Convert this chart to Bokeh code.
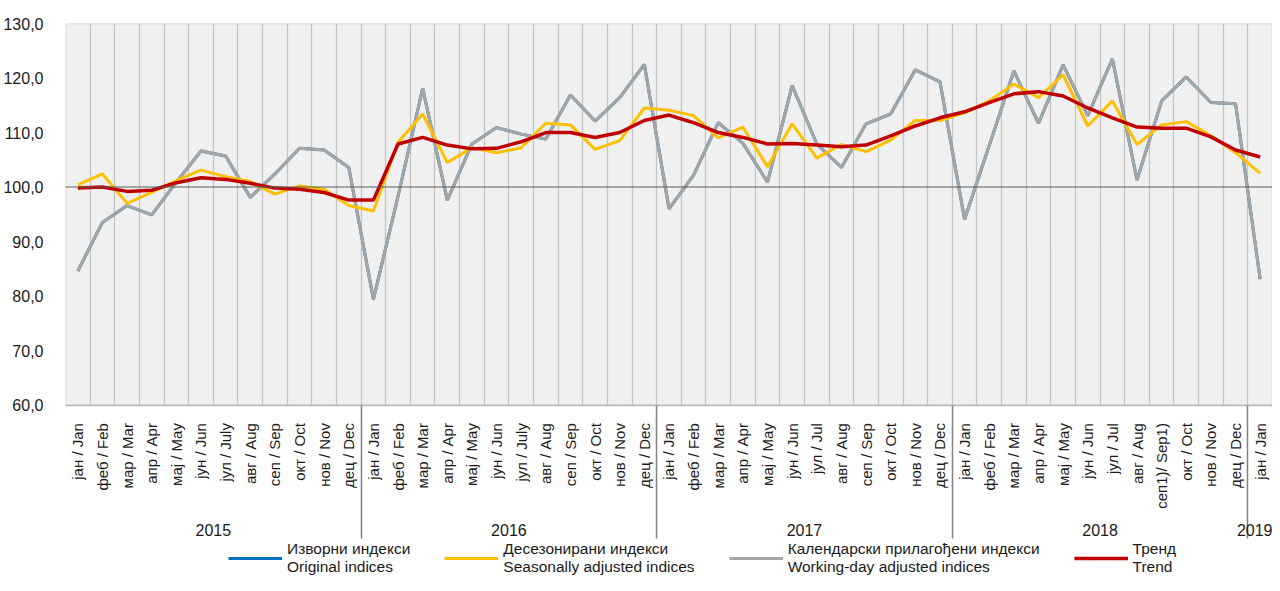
import math
from bokeh.plotting import figure
from bokeh.models import (FactorRange, Range1d, ColumnDataSource, Grid, FixedTicker, Span,
                          Legend, LegendItem, CustomJSTickFormatter, BoxAnnotation)
from bokeh.embed import file_html
from bokeh.resources import INLINE

# ---------------- data ----------------
years = ["2015", "2016", "2017", "2018", "2019"]
months_2015 = ["јан / Jan", "феб / Feb", "мар / Mar", "апр / Apr", "мај / May", "јун / Jun",
               "јул / July", "авг / Aug", "сеп / Sep", "окт / Oct", "нов / Nov", "дец / Dec"]
months_2016 = ["јан / Jan", "феб / Feb", "мар / Mar", "апр / Apr", "мај / May", "јун / Jun",
               "јул / July", "авг / Aug", "сеп / Sep", "окт / Oct", "нов / Nov", "дец / Dec"]
months_2017 = ["јан / Jan", "феб / Feb", "мар / Mar", "апр / Apr", "мај / May", "јун / Jun",
               "јул / Jul", "авг / Aug", "сеп / Sep", "окт / Oct", "нов / Nov", "дец / Dec"]
months_2018 = ["јан / Jan", "феб / Feb", "мар / Mar", "апр / Apr", "мај / May", "јун / Jun",
               "јул / Jul", "авг / Aug", "сеп1)/ Sep1)", "окт / Oct", "нов / Nov", "дец / Dec"]
months_2019 = ["јан / Jan"]
months_by_year = [months_2015, months_2016, months_2017, months_2018, months_2019]

original = [84.6, 93.5, 96.6, 94.9, 100.9, 106.6, 105.7, 98.1, 102.4, 107.1, 106.8, 103.6,
            79.4, 98.3, 118.1, 97.6, 107.9, 110.9, 109.7, 108.8, 116.9, 112.1, 116.4, 122.5,
            96.0, 102.2, 111.8, 108.0, 100.9, 118.6, 107.9, 103.6, 111.6, 113.4, 121.5, 119.3,
            94.1, 107.6, 121.3, 111.7, 122.4, 113.1, 123.5, 101.3, 115.8, 120.2, 115.5, 115.3,
            83.1]
working_day = [84.6, 93.5, 96.6, 94.9, 100.9, 106.6, 105.7, 98.1, 102.4, 107.1, 106.8, 103.6,
               79.4, 98.3, 118.1, 97.6, 107.9, 110.9, 109.7, 108.8, 116.9, 112.1, 116.4, 122.5,
               96.0, 102.2, 111.8, 108.0, 100.9, 118.6, 107.9, 103.6, 111.6, 113.4, 121.5, 119.3,
               94.1, 107.6, 121.3, 111.7, 122.4, 113.1, 123.5, 101.3, 115.8, 120.2, 115.5, 115.3,
               83.1]
seasonal = [100.4, 102.4, 97.0, 99.0, 101.2, 103.1, 101.9, 101.0, 98.7, 100.2, 99.6, 96.6,
            95.6, 108.2, 113.4, 104.5, 107.2, 106.3, 107.2, 111.7, 111.4, 106.9, 108.5, 114.5,
            114.1, 113.1, 109.0, 111.0, 103.7, 111.6, 105.3, 107.8, 106.5, 108.6, 112.2, 112.2,
            113.6, 115.8, 118.9, 116.4, 120.6, 111.2, 115.8, 107.8, 111.4, 112.0, 109.4, 106.3,
            102.5]
trend = [99.8, 100.0, 99.2, 99.4, 100.8, 101.7, 101.4, 100.7, 99.8, 99.6, 99.0, 97.6,
         97.6, 107.9, 109.1, 107.7, 107.0, 107.1, 108.3, 110.0, 110.0, 109.1, 110.0, 112.2,
         113.2, 111.8, 110.0, 109.1, 107.9, 108.0, 107.7, 107.4, 107.7, 109.4, 111.2, 112.7,
         113.8, 115.5, 117.1, 117.5, 116.7, 114.5, 112.7, 111.0, 110.8, 110.8, 109.2, 106.8,
         105.5]
y_ticks = [60, 70, 80, 90, 100, 110, 120, 130]
legend_labels = ["Изворни индекси\nOriginal indices",
                 "Десезонирани индекси\nSeasonally adjusted indices",
                 "Календарски прилагођени индекси\nWorking-day adjusted indices",
                 "Тренд\nTrend"]

factors = [(y, m) for y, ms in zip(years, months_by_year) for m in ms]
n = len(factors)
Y_MIN, Y_MAX = 60, 130
Y_LOW = 27.63   # room below the plot box for the category axis and the legend
Y_SEP = 35.5    # lower end of the year separators

FONT = "Liberation Sans"

src = ColumnDataSource(dict(x=factors, original=original, working_day=working_day,
                            seasonal=seasonal, trend=trend))

p = figure(x_range=FactorRange(*factors, range_padding=0, group_padding=0, factor_padding=0,
                               subgroup_padding=0),
           y_range=Range1d(Y_LOW, Y_MAX),
           frame_width=1207, frame_height=558,
           output_backend="svg", toolbar_location=None,
           min_border_left=57, min_border_right=0, min_border_top=23, min_border_bottom=0)
p.background_fill_color = "white"
p.border_fill_color = "white"
p.outline_line_color = None

# plot box
p.add_layout(BoxAnnotation(bottom=Y_MIN, top=Y_MAX, fill_color="#f0f0f0", fill_alpha=1,
                           line_color="#808080", line_width=1.5, level="underlay"))

# y axis
p.yaxis.ticker = FixedTicker(ticks=y_ticks)
p.yaxis.formatter = CustomJSTickFormatter(code="return tick.toFixed(1).replace('.', ',')")
p.yaxis.axis_line_color = None
p.yaxis.major_tick_line_color = None
p.yaxis.minor_tick_line_color = None
p.yaxis.major_label_text_font = FONT
p.yaxis.major_label_text_font_size = "16px"
p.yaxis.major_label_text_color = "#1a1a1a"
p.yaxis.major_label_standoff = 16
p.ygrid.ticker = FixedTicker(ticks=y_ticks)
p.ygrid.grid_line_color = "#c4c4c4"
p.ygrid.grid_line_width = 1.3

# x axis (months nested in years), fixed at the bottom of the plot box
p.xaxis.fixed_location = Y_MIN
p.xaxis.axis_line_color = None
p.xaxis.major_tick_line_color = None
p.xaxis.major_label_orientation = math.pi / 2
p.xaxis.major_label_text_font = FONT
p.xaxis.major_label_text_font_size = "15px"
p.xaxis.major_label_text_color = "#1a1a1a"
p.xaxis.major_label_standoff = 12
p.xaxis.group_text_font = FONT
p.xaxis.group_text_font_size = "16px"
p.xaxis.group_text_font_style = "normal"
p.xaxis.group_text_color = "#1a1a1a"
p.xaxis.group_label_orientation = "horizontal"
p.xaxis.separator_line_color = None
p.xgrid.visible = False

# boundaries between categories (synthetic categorical coordinates)
p.add_layout(Grid(dimension=0, ticker=FixedTicker(ticks=list(range(1, n))),
                  cross_bounds=(Y_MIN, Y_MAX),
                  grid_line_color="#c4c4c4", grid_line_width=1.3))

# year separators below the plot box
sep_pos = [0]
acc = 0
for ms in months_by_year:
    acc += len(ms)
    sep_pos.append(acc)
p.add_layout(Grid(dimension=0, ticker=FixedTicker(ticks=sep_pos),
                  cross_bounds=(Y_SEP, Y_MIN),
                  grid_line_color="#808080", grid_line_width=1.5))

p.add_layout(Span(location=100, dimension="width", line_color="#5a5a5a", line_width=1.2))

r_orig = p.line("x", "original", source=src, line_color="#0070C0", line_width=3)
r_wd = p.line("x", "working_day", source=src, line_color="#A5A5A5", line_width=3)
r_sa = p.line("x", "seasonal", source=src, line_color="#FFC000", line_width=3)
r_tr = p.line("x", "trend", source=src, line_color="#C00000", line_width=3.5)

legend = Legend(items=[LegendItem(label=legend_labels[0], renderers=[r_orig]),
                       LegendItem(label=legend_labels[1], renderers=[r_sa]),
                       LegendItem(label=legend_labels[2], renderers=[r_wd]),
                       LegendItem(label=legend_labels[3], renderers=[r_tr])],
                orientation="horizontal", location=(163, 5),
                glyph_width=54, glyph_height=22, label_standoff=5, spacing=34,
                padding=0, margin=0, border_line_color=None, background_fill_alpha=0,
                label_text_font=FONT, label_text_font_size="15.5px",
                label_text_color="#1a1a1a", label_height=22)
p.add_layout(legend)

open("out.html", "w").write(file_html(p, INLINE))
